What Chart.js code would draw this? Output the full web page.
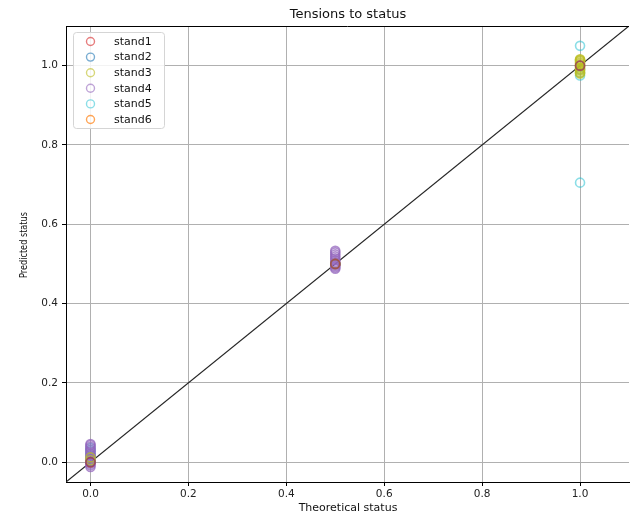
<!DOCTYPE html>
<html><head><meta charset="utf-8">
<script src="https://cdn.jsdelivr.net/npm/chart.js@4.4.1/dist/chart.umd.min.js"></script>
<style>html,body{margin:0;padding:0;background:#fff}#wrap{width:630px;height:516px}</style>
</head><body><div id="wrap"><canvas id="c" width="630" height="516"></canvas></div>
<script>
const seriesNames = ['stand1','stand2','stand3','stand4','stand5','stand6'];
const seriesColors = ['rgba(214,39,40,0.6)','rgba(31,119,180,0.6)','rgba(188,189,34,0.7)','rgba(148,103,189,0.75)','rgba(23,190,207,0.5)','rgba(255,127,14,0.8)'];
const legendColors = ['rgba(214,39,40,0.6)','rgba(31,119,180,0.6)','rgba(188,189,34,0.6)','rgba(148,103,189,0.6)','rgba(23,190,207,0.5)','rgba(255,127,14,0.7)'];
const theoretical1 = [0, 0.5, 1];
const predicted1 = [0.0, 0.5, 1.0];
const theoretical2 = [0, 0.5, 1];
const predicted2 = [0.0, 0.5, 1.0];
const theoretical3 = [0, 0, 0.5, 1, 1, 1, 1, 1, 1, 1, 1, 1, 1, 1, 1, 1, 1];
const predicted3 = [0.005, 0.012, 0.5, 0.98, 0.983, 0.987, 0.99, 0.993, 0.996, 0.999, 1.002, 1.005, 1.008, 1.011, 1.013, 1.015, 1.016];
const theoretical4 = [0, 0, 0, 0, 0, 0, 0, 0, 0, 0, 0, 0, 0, 0, 0, 0.5, 0.5, 0.5, 0.5, 0.5, 0.5, 0.5, 0.5, 0.5, 0.5, 0.5, 0.5];
const predicted4 = [-0.012, -0.008, -0.004, 0.0, 0.004, 0.008, 0.013, 0.018, 0.022, 0.027, 0.031, 0.035, 0.039, 0.043, 0.046, 0.488, 0.491, 0.494, 0.497, 0.501, 0.505, 0.509, 0.514, 0.519, 0.524, 0.529, 0.533];
const theoretical5 = [0, 0, 0, 0, 0, 0, 0, 0, 0.5, 1, 1, 1, 1, 1];
const predicted5 = [0.002, 0.007, 0.012, 0.017, 0.022, 0.027, 0.031, 0.036, 0.5, 1.05, 0.705, 0.975, 0.982, 0.99];
const theoretical6 = [0, 0, 0, 0.5, 0.5, 0.5];
const predicted6 = [-0.001, 0.0, 0.001, 0.499, 0.5, 0.501];
const identityLine = [-0.05, 1.1];
const tickValues = [0, 0.2, 0.4, 0.6, 0.8, 1.0];
const titleText = 'Tensions to status';
const xTitle = 'Theoretical status';
const yTitle = 'Predicted status';

const xs = [theoretical1, theoretical2, theoretical3, theoretical4, theoretical5, theoretical6];
const ys = [predicted1, predicted2, predicted3, predicted4, predicted5, predicted6];

const datasets = seriesNames.map((n, i) => ({
  type: 'scatter', label: n,
  data: xs[i].map((x, k) => ({x: x, y: ys[i][k]})),
  borderColor: seriesColors[i], backgroundColor: 'rgba(0,0,0,0)',
  pointRadius: 4.5, pointBorderWidth: 1.6, pointHoverRadius: 4.5, order: 0
}));
datasets.unshift({
  type: 'line', label: '_identity',
  data: identityLine.map(v => ({x: v, y: v})),
  borderColor: '#262626', borderWidth: 1.2, pointRadius: 0, fill: false, order: 1
});

const FONT = 'DejaVu Sans';
const textPlugin = {
  id: 'texts',
  afterDraw(chart) {
    const ctx = chart.ctx, a = chart.chartArea;
    ctx.save();
    ctx.strokeStyle = '#000'; ctx.lineWidth = 1;
    ctx.beginPath(); ctx.moveTo(a.left, a.top + 0.5); ctx.lineTo(a.right, a.top + 0.5); ctx.stroke();
    ctx.fillStyle = '#111';
    ctx.textAlign = 'center'; ctx.textBaseline = 'middle';
    ctx.font = '13px "' + FONT + '"';
    ctx.fillText(titleText, 348, 15);
    ctx.font = '11px "' + FONT + '"';
    ctx.fillText(xTitle, 348, 508);
    ctx.save();
    ctx.translate(24, 245); ctx.rotate(-Math.PI / 2);
    ctx.font = '11px "' + FONT + '"';
    const w = ctx.measureText(yTitle).width;
    ctx.scale(66 / w, 1);
    ctx.fillText(yTitle, 0, 0);
    ctx.restore();
    const bx = 73.5, by = 32.5, bw = 91, bh = 96;
    ctx.fillStyle = 'rgba(255,255,255,0.85)';
    ctx.strokeStyle = '#d5d5d5'; ctx.lineWidth = 1;
    ctx.beginPath();
    if (ctx.roundRect) ctx.roundRect(bx, by, bw, bh, 3); else ctx.rect(bx, by, bw, bh);
    ctx.fill(); ctx.stroke();
    ctx.font = '11px "' + FONT + '"';
    ctx.textAlign = 'left';
    seriesNames.forEach((n, i) => {
      const yy = 41.5 + i * 15.6;
      ctx.strokeStyle = legendColors[i]; ctx.lineWidth = 1.4;
      ctx.beginPath(); ctx.arc(90.5, yy, 4, 0, Math.PI * 2); ctx.stroke();
      ctx.fillStyle = '#111';
      ctx.fillText(n, 114, yy + 0.5);
    });
    ctx.restore();
  }
};

new Chart(document.getElementById('c'), {
  data: { datasets: datasets },
  options: {
    responsive: false, animation: false, devicePixelRatio: 1,
    layout: { autoPadding: false, padding: { left: 0, right: 1, top: 26, bottom: 0 } },
    plugins: { legend: { display: false }, title: { display: false }, tooltip: { enabled: false } },
    scales: {
      x: {
        type: 'linear', min: -0.05, max: 1.1,
        afterBuildTicks: s => { s.ticks = tickValues.map(v => ({value: v})); },
        afterFit: s => { s.height = 34; s.paddingLeft = 0; s.paddingRight = 0; },
        ticks: { callback: v => v.toFixed(1), color: '#222', font: { family: FONT, size: 10.5 }, padding: 2, maxRotation: 0 },
        grid: { color: '#b0b0b0', lineWidth: 1, tickColor: '#000', tickLength: 4 },
        border: { color: '#000', width: 1 }
      },
      y: {
        type: 'linear', min: -0.05, max: 1.1,
        afterBuildTicks: s => { s.ticks = tickValues.map(v => ({value: v})); },
        afterFit: s => { s.width = 66; s.paddingTop = 0; s.paddingBottom = 0; },
        ticks: { callback: v => v.toFixed(1), color: '#222', font: { family: FONT, size: 10.5 }, padding: 4 },
        grid: { color: '#b0b0b0', lineWidth: 1, tickColor: '#000', tickLength: 4 },
        border: { color: '#000', width: 1 }
      }
    }
  },
  plugins: [textPlugin]
});
</script></body></html>
